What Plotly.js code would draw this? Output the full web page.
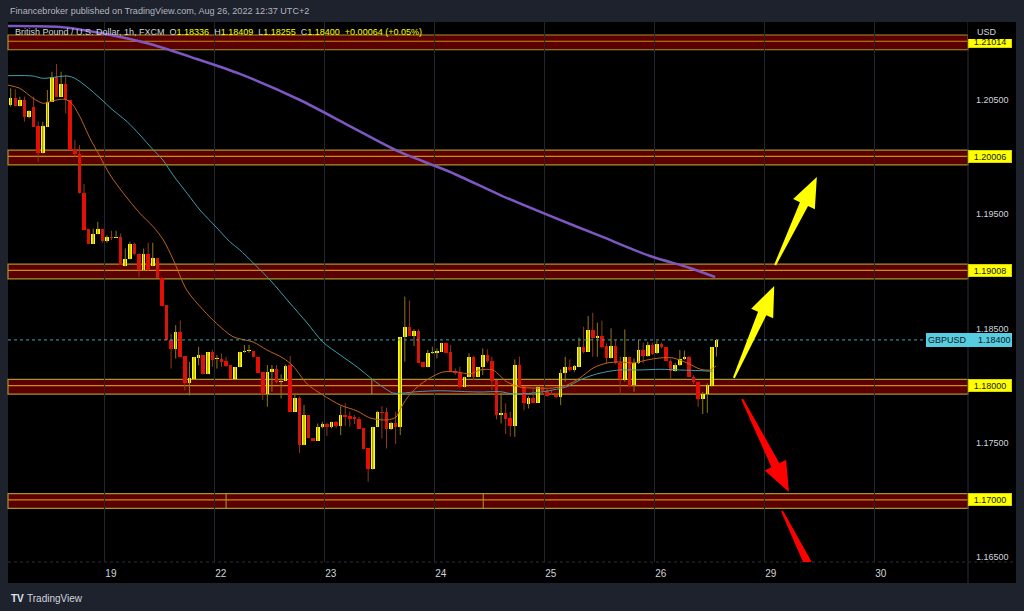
<!DOCTYPE html>
<html><head><meta charset="utf-8">
<script src="https://cdn.plot.ly/plotly-3.0.1.min.js"></script>
<style>html,body{margin:0;padding:0;background:#1e222d;}#chart{width:1024px;height:611px;}</style>
</head><body><div id="chart"></div>
<script>
// ---- DATA (GBP/USD, 1h, FXCM) ----
const opens = [1.20456,1.20514,1.20450,1.20500,1.20348,1.20441,1.20272,1.20032,1.20266,1.20485,1.20704,1.20529,1.20640,1.20500,1.20067,1.20027,1.19682,1.19367,1.19238,1.19323,1.19367,1.19267,1.19302,1.19291,1.19297,1.19045,1.19104,1.19238,1.19156,1.19010,1.19156,1.19045,1.19113,1.18946,1.18704,1.18403,1.18324,1.18470,1.18260,1.18023,1.18061,1.18242,1.18266,1.18099,1.18292,1.18237,1.18237,1.18213,1.18178,1.18061,1.18161,1.18294,1.18300,1.18303,1.18248,1.18116,1.17926,1.18116,1.18142,1.18034,1.18043,1.18180,1.17772,1.17888,1.17480,1.17742,1.17538,1.17515,1.17634,1.17664,1.17640,1.17678,1.17646,1.17742,1.17734,1.17722,1.17710,1.17626,1.17450,1.17266,1.17640,1.17769,1.17766,1.17620,1.17669,1.17640,1.18423,1.18510,1.18434,1.18478,1.18210,1.18160,1.18285,1.18288,1.18297,1.18376,1.18297,1.18131,1.18107,1.17985,1.18078,1.18248,1.18078,1.18160,1.18268,1.18218,1.18049,1.17742,1.17757,1.17719,1.17646,1.18180,1.17996,1.17838,1.17888,1.17850,1.17984,1.17955,1.17938,1.17917,1.17897,1.18113,1.18165,1.18136,1.18165,1.18341,1.18297,1.18487,1.18419,1.18434,1.18346,1.18244,1.18346,1.18195,1.18049,1.18247,1.18005,1.18195,1.18311,1.18259,1.18355,1.18282,1.18364,1.18335,1.18218,1.18130,1.18180,1.18230,1.18253,1.18072,1.18034,1.17879,1.17926,1.17996,1.18336];
const highs = [1.20602,1.20593,1.20529,1.20529,1.20412,1.20529,1.20310,1.20310,1.20587,1.20748,1.20815,1.20748,1.20719,1.20500,1.20149,1.20105,1.19764,1.19367,1.19375,1.19434,1.19367,1.19317,1.19355,1.19355,1.19332,1.19200,1.19259,1.19250,1.19156,1.19200,1.19250,1.19250,1.19113,1.18952,1.18704,1.18456,1.18529,1.18572,1.18260,1.18207,1.18251,1.18339,1.18266,1.18292,1.18315,1.18266,1.18280,1.18251,1.18178,1.18164,1.18297,1.18356,1.18356,1.18303,1.18248,1.18116,1.18180,1.18180,1.18180,1.18099,1.18186,1.18259,1.17918,1.17903,1.17830,1.17742,1.17538,1.17669,1.17684,1.17675,1.17684,1.17690,1.17821,1.17845,1.17772,1.17742,1.17728,1.17626,1.17450,1.17640,1.17780,1.17821,1.17807,1.17684,1.17772,1.18423,1.18779,1.18744,1.18493,1.18493,1.18210,1.18312,1.18341,1.18326,1.18376,1.18376,1.18356,1.18151,1.18166,1.18078,1.18283,1.18259,1.18160,1.18326,1.18317,1.18253,1.18049,1.17932,1.17844,1.17771,1.18230,1.18253,1.17996,1.17908,1.17976,1.18005,1.17990,1.17976,1.17961,1.17932,1.18142,1.18253,1.18230,1.18180,1.18422,1.18516,1.18609,1.18638,1.18551,1.18568,1.18370,1.18501,1.18399,1.18253,1.18492,1.18253,1.18238,1.18399,1.18376,1.18384,1.18376,1.18393,1.18376,1.18335,1.18230,1.18200,1.18311,1.18306,1.18259,1.18092,1.18034,1.17946,1.18019,1.18335,1.18409];
const lows = [1.20441,1.20450,1.20441,1.20310,1.20339,1.20266,1.19959,1.20032,1.20266,1.20485,1.20529,1.20529,1.20383,1.20062,1.20003,1.19682,1.19361,1.19238,1.19238,1.19323,1.19250,1.19250,1.19273,1.19291,1.19054,1.19045,1.19104,1.19142,1.18952,1.19005,1.19005,1.19045,1.18946,1.18695,1.18397,1.18149,1.18237,1.18251,1.17959,1.17915,1.18061,1.18178,1.18099,1.18099,1.18164,1.18149,1.18164,1.18164,1.18061,1.18061,1.18161,1.18288,1.18288,1.18248,1.18113,1.17874,1.17815,1.17947,1.18020,1.17888,1.18043,1.17772,1.17772,1.17412,1.17480,1.17538,1.17515,1.17515,1.17626,1.17558,1.17626,1.17626,1.17567,1.17646,1.17640,1.17664,1.17620,1.17442,1.17158,1.17266,1.17640,1.17538,1.17450,1.17611,1.17488,1.17567,1.18210,1.18434,1.18347,1.18201,1.18160,1.18160,1.18277,1.18239,1.18297,1.18288,1.18122,1.18093,1.17985,1.17985,1.18072,1.18049,1.18078,1.18092,1.18200,1.17961,1.17704,1.17669,1.17576,1.17552,1.17552,1.17990,1.17786,1.17800,1.17844,1.17850,1.17926,1.17903,1.17917,1.17888,1.17830,1.18034,1.18122,1.18122,1.18165,1.18282,1.18297,1.18253,1.18253,1.18326,1.18195,1.18238,1.18189,1.17917,1.18034,1.17984,1.17946,1.18189,1.18195,1.18253,1.18268,1.18276,1.18326,1.18218,1.18054,1.18122,1.18171,1.18224,1.18072,1.18014,1.17815,1.17751,1.17762,1.17990,1.18255];
const closes = [1.20514,1.20450,1.20500,1.20354,1.20406,1.20266,1.20032,1.20272,1.20485,1.20704,1.20529,1.20640,1.20500,1.20062,1.20027,1.19682,1.19361,1.19238,1.19326,1.19367,1.19267,1.19297,1.19288,1.19297,1.19054,1.19104,1.19238,1.19156,1.19010,1.19156,1.19016,1.19113,1.18946,1.18695,1.18397,1.18324,1.18470,1.18251,1.18023,1.18070,1.18251,1.18266,1.18099,1.18292,1.18228,1.18245,1.18207,1.18169,1.18061,1.18164,1.18297,1.18303,1.18303,1.18248,1.18113,1.17926,1.18122,1.18142,1.18034,1.18043,1.18175,1.17772,1.17888,1.17480,1.17742,1.17538,1.17515,1.17634,1.17664,1.17640,1.17678,1.17646,1.17742,1.17722,1.17710,1.17704,1.17620,1.17442,1.17266,1.17640,1.17772,1.17757,1.17620,1.17669,1.17640,1.18423,1.18510,1.18434,1.18478,1.18201,1.18160,1.18288,1.18291,1.18303,1.18376,1.18288,1.18122,1.18107,1.17985,1.18078,1.18248,1.18078,1.18160,1.18268,1.18218,1.18043,1.17742,1.17757,1.17707,1.17646,1.18180,1.17996,1.17844,1.17888,1.17850,1.17984,1.17952,1.17909,1.17926,1.17897,1.18113,1.18165,1.18136,1.18171,1.18341,1.18297,1.18487,1.18414,1.18434,1.18341,1.18238,1.18346,1.18195,1.18054,1.18247,1.17996,1.18200,1.18311,1.18259,1.18355,1.18276,1.18364,1.18335,1.18218,1.18130,1.18180,1.18230,1.18253,1.18072,1.18034,1.17879,1.17926,1.18005,1.18335,1.18400];

// moving averages (candle index, price)
const emaFastIdx = [-0.6,2.0,4.9,7.1,9.3,11.8,13.3,15.1,17.3,19.5,21.7,24.6,28.2,31.1,33.3,35.5,38.4,42.0,44.9,48.5,52.9,55.9,59.4,61.6,64.7,68.1,71.9,75.6,78.4,82.1,84.1,84.9,86.5,88.7,91.5,94.3,97.4,100.2,102.4,105.2,108.3,111.1,114.0,118.3,121.4,124.2,127.1,130.1,132.9,135.8,138.8,141.7,144.5,147.6,150.4,152.6,153.9];
const emaFastVal = [1.20631,1.20602,1.20515,1.20471,1.20494,1.20506,1.20471,1.20354,1.20165,1.20004,1.19844,1.19683,1.19508,1.19391,1.19275,1.19100,1.18837,1.18662,1.18545,1.18428,1.18382,1.18312,1.18242,1.18172,1.18014,1.17918,1.17830,1.17778,1.17717,1.17699,1.17725,1.17787,1.17892,1.17988,1.18067,1.18119,1.18119,1.18102,1.18137,1.18137,1.18032,1.17988,1.17979,1.17979,1.18005,1.18067,1.18154,1.18198,1.18207,1.18198,1.18224,1.18242,1.18242,1.18198,1.18145,1.18137,1.18172];
const emaMidIdx = [-0.6,4.9,7.0,12.3,14.0,16.6,19.5,22.3,25.4,28.2,31.0,33.2,35.4,38.5,41.3,45.0,47.8,50.0,56.6,60.9,64.7,68.1,71.9,75.6,79.1,81.2,83.4,84.9,88.7,93.7,99.6,102.4,106.8,109.6,114.0,118.3,121.4,124.2,127.1,130.1,132.9,137.3,141.7,146.0,150.4,153.2];
const emaMidVal = [1.20713,1.20710,1.20690,1.20710,1.20690,1.20616,1.20515,1.20412,1.20310,1.20194,1.20068,1.19975,1.19844,1.19683,1.19537,1.19380,1.19260,1.19187,1.18924,1.18723,1.18548,1.18382,1.18268,1.18163,1.18049,1.17988,1.17935,1.17933,1.17947,1.17955,1.17947,1.17944,1.17947,1.17927,1.17935,1.17962,1.17991,1.18049,1.18093,1.18122,1.18137,1.18137,1.18143,1.18137,1.18131,1.18125];
const emaSlowIdx = [-0.6,10.8,19.5,30.4,40.6,50.0,63.1,74.0,84.9,95.9,106.8,117.7,128.6,139.5,148.2,153.7];
const emaSlowVal = [1.21148,1.21139,1.21086,1.20990,1.20859,1.20728,1.20500,1.20272,1.20045,1.19870,1.19668,1.19485,1.19310,1.19135,1.19030,1.18951];

// horizontal zones and labels
const zoneLevels = [1.21014, 1.20006, 1.19008, 1.18000, 1.17000];
const zoneAnchorIdx = [47.0, 103.1];      // rectangle anchors on the 1.17 zone
const zoneAnchorIdx18 = [78.8];          // rectangle anchor on the 1.18 zone
const lastPrice = 1.18400;
const dayLabels = ['19','22','23','24','25','26','29','30'];
const priceTicks = [1.165, 1.175, 1.185, 1.195, 1.205];

// drawn arrows: tail (index, price) -> tip (index, price)
const arrowTailIdx = [166.8, 157.8, 159.6, 168.3];
const arrowTailPrice = [1.19056, 1.18067, 1.17883, 1.16903];
const arrowTipIdx = [175.9, 166.6, 169.8, 177.9];
const arrowTipPrice = [1.19826, 1.18872, 1.17069, 1.16124];
const arrowColors = ['#ffff00','#ffff00','#ff0000','#ff0000'];

// ---- LAYOUT GEOMETRY ----
const L = 8, R = 968, T = 22, B = 562;
const X0 = -0.589, X1 = 208.88, Y0 = 1.164562, Y1 = 1.211827;
const px = x => (x - L) / (R - L);
const py = y => (B - y) / (B - T);
const toPx = i => L + (i - X0) / (X1 - X0) * (R - L);
const toPy = p => B - (p - Y0) / (Y1 - Y0) * (B - T);
const fromPx = x => X0 + (x - L) / (R - L) * (X1 - X0);
const fromPy = y => Y0 + (B - y) / (B - T) * (Y1 - Y0);

const idx = opens.map((_, i) => i);
const bodyBase = opens.map((o, i) => Math.min(o, closes[i]));
const bodyH = opens.map((o, i) => Math.max(Math.abs(closes[i] - o), 0.00009));
const bodyCol = opens.map((o, i) => closes[i] >= o ? '#ffff00' : '#ff0000');

const traces = [
  {type:'ohlc', x: idx, open: opens, high: highs, low: lows, close: closes, tickwidth: 0,
   increasing:{line:{color:'#8f7a1c', width:1}}, decreasing:{line:{color:'#8f3a1c', width:1}},
   hoverinfo:'skip', showlegend:false},
  {type:'bar', x: idx, base: bodyBase, y: bodyH, width: 0.78,
   marker:{color: bodyCol, line:{width:0}}, hoverinfo:'skip', showlegend:false},
  {type:'scatter', mode:'lines', x: emaMidIdx, y: emaMidVal, line:{color:'#3f9fae', width:1, shape:'spline', smoothing:0.8}, hoverinfo:'skip', showlegend:false},
  {type:'scatter', mode:'lines', x: emaFastIdx, y: emaFastVal, line:{color:'#c0641e', width:1, shape:'spline', smoothing:0.8}, hoverinfo:'skip', showlegend:false},
  {type:'scatter', mode:'lines', x: emaSlowIdx, y: emaSlowVal, line:{color:'#7e57c2', width:2.5, shape:'spline', smoothing:0.8}, hoverinfo:'skip', showlegend:false}
];

const shapes = [];
// black chart panel (plot + price scale + time scale)
shapes.push({type:'rect', xref:'paper', yref:'paper', x0: px(8), x1: px(1016), y0: py(583), y1: py(22), fillcolor:'#000000', line:{width:0}, layer:'below'});
// zones
const upOff = 0.00055, dnOff = 0.00074;
zoneLevels.forEach(lv => {
  shapes.push({type:'rect', xref:'paper', yref:'y', x0:0, x1:1, y0: lv - dnOff, y1: lv + upOff, fillcolor:'#5a0000', line:{color:'#a8922a', width:1.2}, layer:'below'});
  shapes.push({type:'line', xref:'paper', yref:'y', x0:0, x1:1, y0: lv, y1: lv, line:{color:'#d08a10', width:1.2}, layer:'below'});
});
zoneAnchorIdx.forEach(a => shapes.push({type:'line', xref:'x', yref:'y', x0:a, x1:a, y0: 1.17 - dnOff, y1: 1.17 + upOff, line:{color:'#b09a2c', width:1}, layer:'below'}));
zoneAnchorIdx18.forEach(a => shapes.push({type:'line', xref:'x', yref:'y', x0:a, x1:a, y0: 1.18 - dnOff, y1: 1.18 + upOff, line:{color:'#b09a2c', width:1}, layer:'below'}));
// last price dotted line
shapes.push({type:'line', xref:'paper', yref:'y', x0:0, x1: px(926), y0: lastPrice, y1: lastPrice, line:{color:'#3aa9b8', width:1, dash:'dot'}, layer:'above'});
// separators
shapes.push({type:'line', xref:'paper', yref:'paper', x0: 1, x1: 1, y0: py(583), y1: py(22), line:{color:'#2a2e39', width:1}});
shapes.push({type:'line', xref:'paper', yref:'paper', x0: 0, x1: px(1016), y0: 0, y1: 0, line:{color:'#2a2e39', width:1, dash:'dot'}});
// arrows
arrowTailIdx.forEach((ti, k) => {
  const tx = toPx(ti), ty = toPy(arrowTailPrice[k]);
  const hx = toPx(arrowTipIdx[k]), hy = toPy(arrowTipPrice[k]);
  const dx = hx - tx, dy = hy - ty, len = Math.hypot(dx, dy);
  const ux = dx / len, uy = dy / len, nx = -uy, ny = ux;
  const headLen = 30, headHalf = 12, shaftTail = 1, shaftHead = 4.5;
  const bx = hx - ux * headLen, by = hy - uy * headLen;
  const pts = [
    [tx + nx * shaftTail, ty + ny * shaftTail],
    [bx + nx * shaftHead, by + ny * shaftHead],
    [bx + nx * headHalf, by + ny * headHalf],
    [hx, hy],
    [bx - nx * headHalf, by - ny * headHalf],
    [bx - nx * shaftHead, by - ny * shaftHead],
    [tx - nx * shaftTail, ty - ny * shaftTail]
  ];
  const path = pts.map((p, j) => (j ? 'L' : 'M') + fromPx(p[0]) + ',' + fromPy(p[1])).join(' ') + ' Z';
  shapes.push({type:'path', xref:'x', yref:'y', path: path, fillcolor: arrowColors[k], line:{width:0}, layer:'above'});
});

const F = 'Liberation Sans, Arial, sans-serif';
const annotations = [];
annotations.push({xref:'paper', yref:'paper', x: px(8), y: py(11), xanchor:'left', yanchor:'middle', showarrow:false,
  text:'Financebroker published on TradingView.com, Aug 26, 2022 12:37 UTC+2', font:{family:F, size:9.1, color:'#b2b5be'}});
const W = '#d1d4dc', Yc = '#ffff00', sp = '\u00a0\u00a0';
annotations.push({xref:'paper', yref:'paper', x: px(13), y: py(32), xanchor:'left', yanchor:'middle', showarrow:false,
  text:`<span style="color:${W}">British Pound / U.S. Dollar, 1h, FXCM</span>${sp}<span style="color:${W}">O</span><span style="color:${Yc}">${opens[opens.length-1].toFixed(5)}</span>${sp}<span style="color:${W}">H</span><span style="color:${Yc}">${highs[highs.length-1].toFixed(5)}</span>${sp}<span style="color:${W}">L</span><span style="color:${Yc}">${lows[lows.length-1].toFixed(5)}</span>${sp}<span style="color:${W}">C</span><span style="color:${Yc}">${closes[closes.length-1].toFixed(5)}</span>${sp}<span style="color:${Yc}">+0.00064 (+0.05%)</span>`,
  font:{family:F, size:9, color:W}});
zoneLevels.forEach(lv => {
  annotations.push({xref:'paper', yref:'y', x: 1, y: lv, xanchor:'left', yanchor:'middle', showarrow:false,
    text: lv.toFixed(5), bgcolor:'#ffff00', bordercolor:'#d6d600', borderwidth:1, borderpad:1, width:40, height:9,
    font:{family:F, size:9, color:'#131722'}});
});
// price-scale header covering the top label
annotations.push({xref:'paper', yref:'paper', x: 1.0005, y: py(22), xanchor:'left', yanchor:'top', showarrow:false,
  text:' ', bgcolor:'#000000', borderpad:0, borderwidth:0, width:47, height:17});
annotations.push({xref:'paper', yref:'paper', x: px(975), y: py(32), xanchor:'left', yanchor:'middle', showarrow:false,
  text:'USD', font:{family:F, size:9, color:W}});
// last price label
annotations.push({xref:'paper', yref:'y', x: px(926), y: lastPrice, xanchor:'left', yanchor:'middle', showarrow:false,
  text:'GBPUSD', align:'left', bgcolor:'#56cde0', bordercolor:'#56cde0', borderwidth:1, borderpad:1, width:82, height:10,
  font:{family:F, size:9, color:'#131722'}});
annotations.push({xref:'paper', yref:'y', x: px(976), y: lastPrice, xanchor:'left', yanchor:'middle', showarrow:false,
  text: lastPrice.toFixed(5), font:{family:F, size:9, color:'#131722'}});
// TradingView logo
annotations.push({xref:'paper', yref:'paper', x: px(9), y: py(598), xanchor:'left', yanchor:'middle', showarrow:false,
  text:'<b>TV</b>', font:{family:F, size:10, color:'#e0e3eb'}});
annotations.push({xref:'paper', yref:'paper', x: px(25), y: py(598), xanchor:'left', yanchor:'middle', showarrow:false,
  text:'TradingView', font:{family:F, size:10, color:'#d1d4dc'}});

const layout = {
  width: 1024, height: 611,
  margin: {l: L, r: 1024 - R, t: T, b: 611 - B, pad: 0},
  paper_bgcolor: '#1e222d', plot_bgcolor: '#000000',
  showlegend: false, dragmode: false, bargap: 0, barmode: 'overlay',
  xaxis: {range: [X0, X1], rangeslider: {visible: false}, showgrid: true, gridcolor: '#23262f', gridwidth: 1,
    zeroline: false, showline: false, ticks: '', tickvals: dayLabels.map((_, k) => 20.55 + 24 * k), ticktext: dayLabels,
    tickfont: {family: F, size: 10, color: '#d1d4dc'}, ticklabelshift: 6, ticklabelstandoff: 4, fixedrange: true},
  yaxis: {range: [Y0, Y1], side: 'right', showgrid: false, zeroline: false, showline: false, ticks: '',
    tickvals: priceTicks, ticktext: priceTicks.map(v => v.toFixed(5)), ticklabelstandoff: 7,
    tickfont: {family: F, size: 9, color: '#d1d4dc'}, fixedrange: true},
  shapes: shapes, annotations: annotations
};
Plotly.newPlot('chart', traces, layout, {displayModeBar: false, staticPlot: true});
</script>
</body></html>
